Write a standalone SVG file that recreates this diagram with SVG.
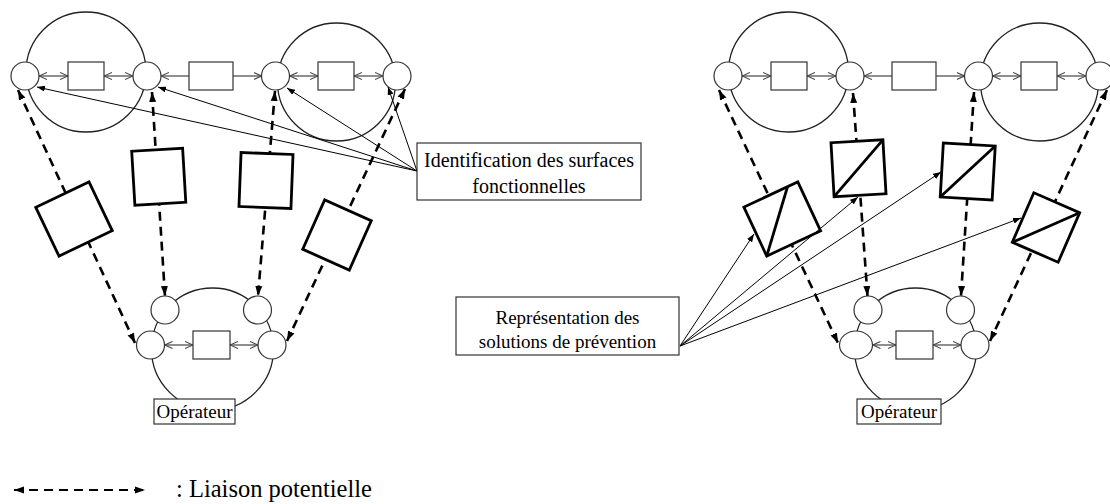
<svg xmlns="http://www.w3.org/2000/svg" width="1110" height="504" viewBox="0 0 1110 504">
<defs>
<style>
.big{fill:#fff;stroke:#222;stroke-width:1.3}
.nd{fill:#fff;stroke:#333;stroke-width:1.2}
.box{fill:#fff;stroke:#333;stroke-width:1.2}
.sq{fill:#fff;stroke:#000;stroke-width:2.8}
.dg{fill:none;stroke:#000;stroke-width:2.8}
.lk{stroke:#444;stroke-width:1.2;fill:none}
.ds{stroke:#000;stroke-width:2.6;stroke-dasharray:9 6;fill:none}
.th{stroke:#000;stroke-width:1;fill:none}
.t{font-family:"Liberation Serif","Times New Roman",serif;fill:#000;text-anchor:middle}
</style>
<marker id="mo" viewBox="0 0 8 8" refX="8" refY="4" markerWidth="8" markerHeight="8" markerUnits="userSpaceOnUse" orient="auto-start-reverse"><path d="M0,0.5 L8,4 L0,7.5" fill="none" stroke="#444" stroke-width="1.1"/></marker>
<marker id="md" viewBox="0 0 10 8" refX="10" refY="4" markerWidth="10" markerHeight="8" markerUnits="userSpaceOnUse" orient="auto-start-reverse"><path d="M0,0.5 L10,4 L0,7.5 Z" fill="#000"/></marker>
<marker id="mt" viewBox="0 0 8 6" refX="8" refY="3" markerWidth="8" markerHeight="6" markerUnits="userSpaceOnUse" orient="auto"><path d="M0,0 L8,3 L0,6 Z" fill="#000"/></marker>
</defs>

<!-- big system circles -->
<g id="l-sys1"><circle class="big" cx="86" cy="72" r="60"/></g>
<g id="l-sys2"><circle class="big" cx="336.5" cy="82" r="59"/></g>
<g id="l-op-sys"><circle class="big" cx="212.5" cy="349" r="61"/></g>
<g id="r-sys1"><circle class="big" cx="788.5" cy="72" r="60"/></g>
<g id="r-sys2"><circle class="big" cx="1039.5" cy="82" r="59"/></g>
<g id="r-op-sys"><circle class="big" cx="915.5" cy="349" r="61"/></g>

<!-- connectors -->
<g id="connectors">
  <g id="dashed">
    <line class="ds" x1="18" y1="90" x2="135" y2="343" marker-start="url(#md)" marker-end="url(#md)"/>
    <line class="ds" x1="152" y1="92" x2="165" y2="296" marker-start="url(#md)" marker-end="url(#md)"/>
    <line class="ds" x1="275" y1="91" x2="258" y2="296" marker-start="url(#md)" marker-end="url(#md)"/>
    <line class="ds" x1="405" y1="89" x2="287" y2="341" marker-start="url(#md)" marker-end="url(#md)"/>
    <line class="ds" x1="719" y1="90" x2="838" y2="343" marker-start="url(#md)" marker-end="url(#md)"/>
    <line class="ds" x1="853" y1="93" x2="867.5" y2="296" marker-start="url(#md)" marker-end="url(#md)"/>
    <line class="ds" x1="974" y1="92" x2="961" y2="296" marker-start="url(#md)" marker-end="url(#md)"/>
    <line class="ds" x1="1107" y1="90" x2="990" y2="341" marker-start="url(#md)" marker-end="url(#md)"/>
  </g>
  <g id="links">
    <line class="lk" x1="39" y1="76" x2="68" y2="76" marker-start="url(#mo)" marker-end="url(#mo)"/>
    <line class="lk" x1="104" y1="76" x2="133" y2="76" marker-start="url(#mo)" marker-end="url(#mo)"/>
    <line class="lk" x1="189" y1="76" x2="161" y2="76" marker-end="url(#mo)"/>
    <line class="lk" x1="233" y1="76" x2="261.5" y2="76" marker-end="url(#mo)"/>
    <line class="lk" x1="289.5" y1="76" x2="318" y2="76" marker-start="url(#mo)" marker-end="url(#mo)"/>
    <line class="lk" x1="354" y1="76" x2="383" y2="76" marker-start="url(#mo)" marker-end="url(#mo)"/>
    <line class="lk" x1="164.5" y1="345" x2="193" y2="345" marker-start="url(#mo)" marker-end="url(#mo)"/>
    <line class="lk" x1="230" y1="345" x2="258" y2="345" marker-start="url(#mo)" marker-end="url(#mo)"/>
    <line class="lk" x1="742" y1="76" x2="771" y2="76" marker-start="url(#mo)" marker-end="url(#mo)"/>
    <line class="lk" x1="807" y1="76" x2="836" y2="76" marker-start="url(#mo)" marker-end="url(#mo)"/>
    <line class="lk" x1="892" y1="76" x2="864" y2="76" marker-end="url(#mo)"/>
    <line class="lk" x1="936" y1="76" x2="964.5" y2="76" marker-end="url(#mo)"/>
    <line class="lk" x1="992.5" y1="76" x2="1021" y2="76" marker-start="url(#mo)" marker-end="url(#mo)"/>
    <line class="lk" x1="1057" y1="76" x2="1086" y2="76" marker-start="url(#mo)" marker-end="url(#mo)"/>
    <line class="lk" x1="872.5" y1="345" x2="896" y2="345" marker-start="url(#mo)" marker-end="url(#mo)"/>
    <line class="lk" x1="933" y1="345" x2="961" y2="345" marker-start="url(#mo)" marker-end="url(#mo)"/>
  </g>
</g>

<!-- left squares -->
<g id="l-s1" transform="translate(74,219) rotate(-25.5)"><rect class="sq" x="-29.5" y="-27" width="59" height="54"/></g>
<g id="l-s2" transform="translate(158.75,176.75) rotate(-3.4)"><rect class="sq" x="-25.5" y="-27" width="51" height="54"/></g>
<g id="l-s3" transform="translate(266,180.5) rotate(2.2)"><rect class="sq" x="-26" y="-27" width="52" height="54"/></g>
<g id="l-s4" transform="translate(337,235) rotate(24)"><rect class="sq" x="-25.5" y="-27" width="51" height="54"/></g>

<!-- right squares -->
<g id="r-s1" transform="translate(782.25,219) rotate(-25)"><rect class="sq" x="-29.75" y="-27" width="59.5" height="54"/><line class="dg" x1="-29.75" y1="27" x2="18.4" y2="-27"/></g>
<g id="r-s2" transform="translate(858.5,168.25) rotate(-3.3)"><rect class="sq" x="-26" y="-27" width="52" height="54"/><line class="dg" x1="-26" y1="27" x2="26" y2="-27"/></g>
<g id="r-s3" transform="translate(967.75,171.5) rotate(3.3)"><rect class="sq" x="-26" y="-27" width="52" height="54"/><line class="dg" x1="-26" y1="27" x2="26" y2="-27"/></g>
<g id="r-s4" transform="translate(1046,227.5) rotate(23.5)"><rect class="sq" x="-25" y="-27" width="50" height="54"/><line class="dg" x1="-25" y1="27" x2="25" y2="-27"/></g>

<!-- left top nodes -->
<g id="l-a"><circle class="nd" cx="25" cy="76" r="14"/></g>
<g id="l-r1"><rect class="nd" x="68" y="62" width="36" height="28"/></g>
<g id="l-b"><circle class="nd" cx="147" cy="76" r="14"/></g>
<g id="l-rm"><rect class="nd" x="189" y="62" width="44" height="28"/></g>
<g id="l-c"><circle class="nd" cx="275.5" cy="76" r="14"/></g>
<g id="l-r2"><rect class="nd" x="318" y="62" width="36" height="28"/></g>
<g id="l-d"><circle class="nd" cx="397" cy="76" r="14"/></g>
<!-- left lower nodes -->
<g id="l-e"><circle class="nd" cx="165" cy="310" r="14"/></g>
<g id="l-f"><circle class="nd" cx="257.5" cy="310" r="14"/></g>
<g id="l-g"><circle class="nd" cx="150.5" cy="345" r="14"/></g>
<g id="l-r3"><rect class="nd" x="193" y="331" width="37" height="28"/></g>
<g id="l-h"><circle class="nd" cx="272" cy="345" r="14"/></g>
<g id="l-op"><rect class="box" x="154" y="399" width="81" height="25"/><text class="t" x="194.5" y="418" font-size="19">Opérateur</text></g>

<!-- right top nodes -->
<g id="r-a"><circle class="nd" cx="728" cy="76" r="14"/></g>
<g id="r-r1"><rect class="nd" x="771" y="62" width="36" height="28"/></g>
<g id="r-b"><circle class="nd" cx="850" cy="76" r="14"/></g>
<g id="r-rm"><rect class="nd" x="892" y="62" width="44" height="28"/></g>
<g id="r-c"><circle class="nd" cx="978.5" cy="76" r="14"/></g>
<g id="r-r2"><rect class="nd" x="1021" y="62" width="36" height="28"/></g>
<g id="r-d"><circle class="nd" cx="1100" cy="76" r="14"/></g>
<!-- right lower nodes -->
<g id="r-e"><circle class="nd" cx="868" cy="310" r="14"/></g>
<g id="r-f"><circle class="nd" cx="960.5" cy="310" r="14"/></g>
<g id="r-g"><ellipse class="nd" cx="856" cy="345" rx="16.5" ry="14"/></g>
<g id="r-r3"><rect class="nd" x="896" y="331" width="37" height="28"/></g>
<g id="r-h"><circle class="nd" cx="975" cy="345" r="14"/></g>
<g id="r-op"><rect class="box" x="857" y="399" width="84" height="25"/><text class="t" x="899" y="418" font-size="19">Opérateur</text></g>

<!-- annotation arrows -->
<g id="annot-arrows">
  <line class="th" x1="417" y1="171" x2="37" y2="87" marker-end="url(#mt)"/>
  <line class="th" x1="417" y1="171" x2="158" y2="87" marker-end="url(#mt)"/>
  <line class="th" x1="417" y1="171" x2="287" y2="88" marker-end="url(#mt)"/>
  <line class="th" x1="417" y1="171" x2="388" y2="87" marker-end="url(#mt)"/>
  <line class="th" x1="680" y1="346" x2="754" y2="234" marker-end="url(#mt)"/>
  <line class="th" x1="680" y1="346" x2="858" y2="197" marker-end="url(#mt)"/>
  <line class="th" x1="680" y1="346" x2="941" y2="172" marker-end="url(#mt)"/>
  <line class="th" x1="680" y1="346" x2="1021" y2="218" marker-end="url(#mt)"/>
</g>

<g id="lbl-ident"><rect class="box" x="417" y="143" width="224" height="57"/><text class="t" x="529" y="167" font-size="20">Identification des surfaces</text><text class="t" x="529" y="193" font-size="20">fonctionnelles</text></g>
<g id="lbl-repr"><rect class="box" x="456" y="297" width="223" height="58"/><text class="t" x="567.5" y="324" font-size="19">Représentation des</text><text class="t" x="567.5" y="348" font-size="19">solutions de prévention</text></g>

<g id="legend">
  <line class="ds" x1="14" y1="490" x2="145" y2="490" style="stroke-width:2.2" marker-start="url(#md)" marker-end="url(#md)"/>
  <text x="176" y="497" font-size="24.5" style="font-family:'Liberation Serif','Times New Roman',serif">: Liaison potentielle</text>
</g>
</svg>
